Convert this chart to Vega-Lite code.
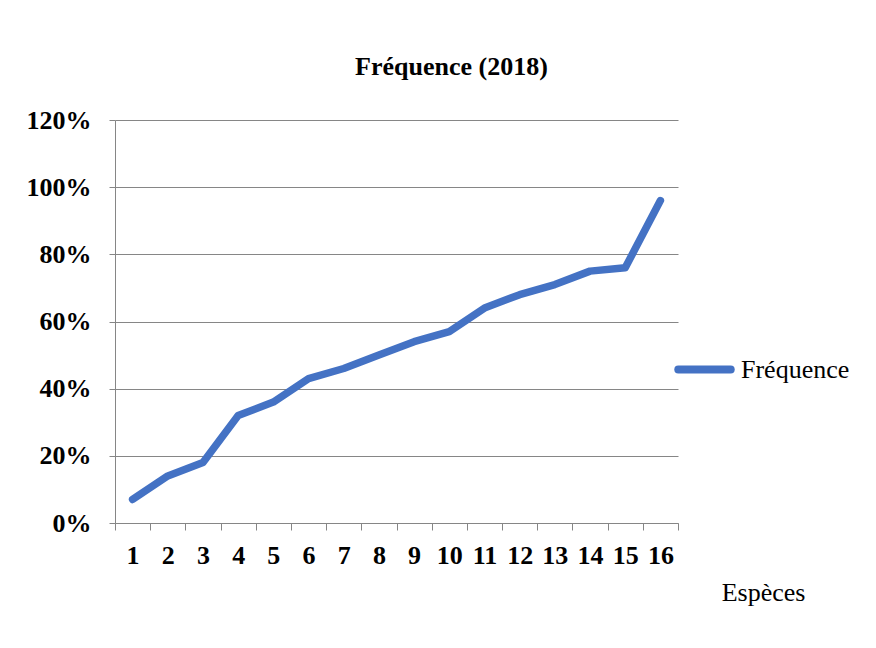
{
  "$schema": "https://vega.github.io/schema/vega-lite/v6.json",
  "autosize": "none",
  "width": 563,
  "height": 403,
  "padding": {"left": 115, "top": 120, "right": 198, "bottom": 125},
  "background": "white",
  "title": {
    "text": "Fréquence (2018)",
    "font": "Liberation Serif",
    "fontSize": 26,
    "fontWeight": "bold",
    "color": "black",
    "anchor": "middle",
    "dx": 55,
    "offset": 27
  },
  "data": {
    "values": [
      {"espece": 1, "freq": 0.07, "serie": "Fréquence"},
      {"espece": 2, "freq": 0.14, "serie": "Fréquence"},
      {"espece": 3, "freq": 0.18, "serie": "Fréquence"},
      {"espece": 4, "freq": 0.32, "serie": "Fréquence"},
      {"espece": 5, "freq": 0.36, "serie": "Fréquence"},
      {"espece": 6, "freq": 0.43, "serie": "Fréquence"},
      {"espece": 7, "freq": 0.46, "serie": "Fréquence"},
      {"espece": 8, "freq": 0.50, "serie": "Fréquence"},
      {"espece": 9, "freq": 0.54, "serie": "Fréquence"},
      {"espece": 10, "freq": 0.57, "serie": "Fréquence"},
      {"espece": 11, "freq": 0.64, "serie": "Fréquence"},
      {"espece": 12, "freq": 0.68, "serie": "Fréquence"},
      {"espece": 13, "freq": 0.71, "serie": "Fréquence"},
      {"espece": 14, "freq": 0.75, "serie": "Fréquence"},
      {"espece": 15, "freq": 0.76, "serie": "Fréquence"},
      {"espece": 16, "freq": 0.96, "serie": "Fréquence"}
    ]
  },
  "mark": {"type": "line", "strokeWidth": 7.5, "strokeCap": "round", "strokeJoin": "round"},
  "encoding": {
    "x": {
      "field": "espece",
      "type": "ordinal",
      "sort": "ascending",
      "scale": {"type": "band", "paddingInner": 0, "paddingOuter": 0},
      "axis": {
        "title": "Espèces",
        "titleFont": "Liberation Serif",
        "titleFontSize": 26,
        "titleFontWeight": "normal",
        "titleColor": "black",
        "titleX": 648,
        "titleY": 69,
        "titleAlign": "center",
        "titleBaseline": "middle",
        "labelFont": "Liberation Serif",
        "labelFontSize": 26,
        "labelFontWeight": "bold",
        "labelColor": "black",
        "labelAngle": 0,
        "labelPadding": 12,
        "tickBand": "extent",
        "tickSize": 7,
        "tickColor": "#868686",
        "domainColor": "#868686",
        "grid": false
      }
    },
    "y": {
      "field": "freq",
      "type": "quantitative",
      "scale": {"domain": [0, 1.2], "nice": false},
      "axis": {
        "title": null,
        "values": [0, 0.2, 0.4, 0.6, 0.8, 1.0, 1.2],
        "format": ".0%",
        "labelFont": "Liberation Serif",
        "labelFontSize": 26,
        "labelFontWeight": "bold",
        "labelColor": "black",
        "labelPadding": 18,
        "tickSize": 6,
        "tickColor": "#868686",
        "domainColor": "#868686",
        "gridColor": "#868686",
        "gridWidth": 1
      }
    },
    "color": {
      "field": "serie",
      "type": "nominal",
      "scale": {"range": ["#4472C4"]},
      "legend": {
        "title": null,
        "orient": "none",
        "legendX": 559,
        "legendY": 219,
        "padding": 0,
        "symbolType": "stroke",
        "symbolSize": 2750,
        "symbolStrokeWidth": 8,
        "labelFont": "Liberation Serif",
        "labelFontSize": 26,
        "labelColor": "black",
        "labelOffset": 6,
        "encode": {"symbols": {"update": {"strokeCap": {"value": "round"}}}}
      }
    }
  },
  "config": {
    "view": {"stroke": null}
  }
}
